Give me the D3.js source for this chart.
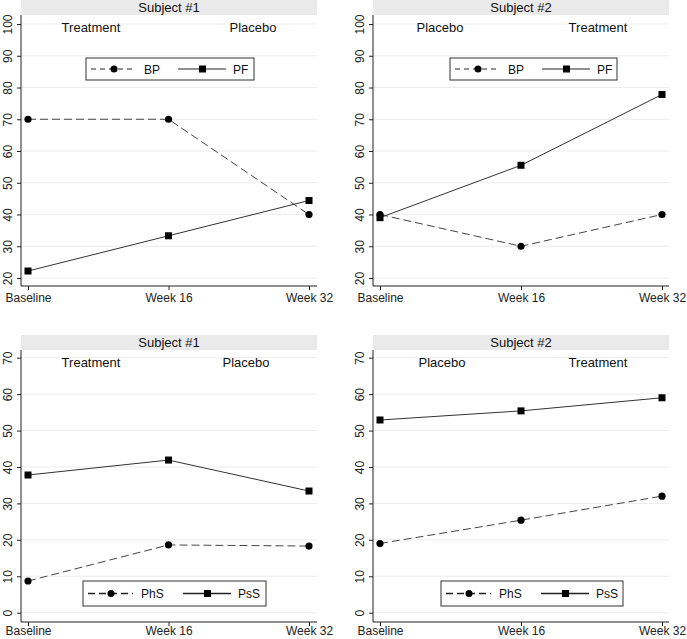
<!DOCTYPE html>
<html><head><meta charset="utf-8">
<script src="https://cdn.jsdelivr.net/npm/d3@7"></script>
<style>body{margin:0;background:#fff}svg{display:block;font-family:"Liberation Sans",Arial,sans-serif}</style>
</head><body>
<script>
// ---- data ----
const timepoints = ["Baseline", "Week 16", "Week 32"];
const s1BP = [70, 70, 40];
const s1PF = [22.2, 33.3, 44.4];
const s2BP = [40, 30, 40];
const s2PF = [39, 55.5, 77.8];
const s1PhS = [8.7, 18.6, 18.3];
const s1PsS = [37.8, 41.9, 33.4];
const s2PhS = [19, 25.4, 32];
const s2PsS = [52.9, 55.4, 59];
const topTicks = [20, 30, 40, 50, 60, 70, 80, 90, 100];
const bottomTicks = [0, 10, 20, 30, 40, 50, 60, 70];
const titles = ["Subject #1", "Subject #2"];
const phases1 = ["Treatment", "Placebo"];
const phases2 = ["Placebo", "Treatment"];

const W = 687, H = 639;
const svg = d3.select("body").append("svg").attr("width", W).attr("height", H);

const panels = [
  {title: titles[0], phases: phases1, dashed: s1BP, solid: s1PF, names: ["BP","PF"], ticks: topTicks,
   L: 21, R: 317, T: 15, B: 286, px: [28, 309], py: [278, 24], band: [0, 15], phaseY: 32, phaseX: [91, 253],
   leg: [86, 58, 168, 22], xLabY: 7},
  {title: titles[1], phases: phases2, dashed: s2BP, solid: s2PF, names: ["BP","PF"], ticks: topTicks,
   L: 373, R: 669, T: 15, B: 286, px: [380, 662], py: [278, 24], band: [0, 15], phaseY: 32, phaseX: [440, 598],
   leg: [450, 58, 167, 22], xLabY: 7},
  {title: titles[0], phases: phases1, dashed: s1PhS, solid: s1PsS, names: ["PhS","PsS"], ticks: bottomTicks,
   L: 21, R: 317, T: 350, B: 622, px: [28, 309], py: [612.7, 357.7], band: [335, 350], phaseY: 367, phaseX: [91, 246],
   leg: [83, 581, 183, 25], xLabY: 4},
  {title: titles[1], phases: phases2, dashed: s2PhS, solid: s2PsS, names: ["PhS","PsS"], ticks: bottomTicks,
   L: 373, R: 669, T: 350, B: 622, px: [380, 662], py: [612.7, 357.7], band: [335, 350], phaseY: 367, phaseX: [442, 598],
   leg: [441, 581, 182, 25], xLabY: 4}
];

panels.forEach((p, i) => {
  const g = svg.append("g");
  const x = d3.scalePoint().domain(timepoints).range(p.px);
  const y = d3.scaleLinear().domain([p.ticks[0], p.ticks[p.ticks.length - 1]]).range(p.py);

  // header band
  g.append("rect").attr("x", p.L).attr("y", p.band[0]).attr("width", p.R - p.L).attr("height", p.band[1] - p.band[0]).attr("fill", "#eaeaea");
  g.append("text").attr("x", (p.L + p.R) / 2).attr("y", p.band[1] - 3).attr("text-anchor", "middle")
    .attr("font-size", 13).attr("fill", "#111").text(p.title);

  // gridlines
  g.selectAll(".grid").data(p.ticks).join("line")
    .attr("x1", p.L).attr("x2", p.R).attr("y1", d => y(d)).attr("y2", d => y(d))
    .attr("stroke", "#ececec").attr("stroke-width", 1);

  // y axis
  const ya = g.append("g").attr("transform", `translate(${p.L},0)`)
    .call(d3.axisLeft(y).tickValues(p.ticks).tickSize(4).tickSizeOuter(0));
  ya.select(".domain").remove();
  ya.append("line").attr("x1", 0).attr("x2", 0).attr("y1", p.T).attr("y2", p.B).attr("stroke", "#222");
  ya.selectAll(".tick line").attr("stroke", "#222");
  ya.selectAll(".tick text").attr("font-size", 12).attr("fill", "#222")
    .attr("transform", "rotate(-90)").attr("x", 0).attr("y", -9).attr("dy", 0).attr("text-anchor", "middle")
    .attr("font-family", "Liberation Sans, Arial, sans-serif");

  // x axis
  const xa = g.append("g").attr("transform", `translate(0,${p.B})`)
    .call(d3.axisBottom(x).tickSize(4).tickSizeOuter(0));
  xa.select(".domain").remove();
  xa.append("line").attr("x1", p.L).attr("x2", p.R).attr("y1", 0).attr("y2", 0).attr("stroke", "#222");
  xa.selectAll(".tick line").attr("stroke", "#222");
  xa.selectAll(".tick text").attr("font-size", 12).attr("fill", "#222").attr("y", p.xLabY)
    .attr("font-family", "Liberation Sans, Arial, sans-serif");

  // phase labels
  g.selectAll(".phase").data(p.phases).join("text")
    .attr("x", (d, k) => p.phaseX[k]).attr("y", p.phaseY).attr("text-anchor", "middle")
    .attr("font-size", 13).attr("fill", "#111").text(d => d);

  const line = d3.line().x((d, k) => x(timepoints[k])).y(d => y(d));
  // dashed series
  g.append("path").attr("d", line(p.dashed)).attr("fill", "none").attr("stroke", "#444")
    .attr("stroke-width", 1).attr("stroke-dasharray", "8,4");
  g.selectAll(".c").data(p.dashed).join("circle")
    .attr("cx", (d, k) => x(timepoints[k])).attr("cy", d => y(d)).attr("r", 3.6).attr("fill", "#000");
  // solid series
  g.append("path").attr("d", line(p.solid)).attr("fill", "none").attr("stroke", "#333").attr("stroke-width", 1);
  g.selectAll(".s").data(p.solid).join("rect")
    .attr("x", (d, k) => x(timepoints[k]) - 3.5).attr("y", d => y(d) - 3.5).attr("width", 7).attr("height", 7).attr("fill", "#000");

  // legend
  const [lx, ly, lw, lh] = p.leg;
  const lg = g.append("g").attr("transform", `translate(${lx},${ly})`);
  lg.append("rect").attr("width", lw).attr("height", lh).attr("fill", "#fff").attr("stroke", "#333").attr("stroke-width", 1);
  const cy = lh / 2;
  const bottom = i >= 2;
  lg.append("line").attr("x1", 5).attr("x2", 50).attr("y1", cy).attr("y2", cy).attr("stroke", "#222")
    .attr("stroke-width", bottom ? 1.6 : 1).attr("stroke-dasharray", bottom ? "7,4" : "5,4");
  lg.append("circle").attr("cx", 28).attr("cy", cy).attr("r", 3.5).attr("fill", "#000");
  lg.append("text").attr("x", 58).attr("y", cy + 4.5).attr("font-size", 12).attr("fill", "#111").text(p.names[0]);
  const sx = bottom ? 100 : 92;
  lg.append("line").attr("x1", sx).attr("x2", sx + 48).attr("y1", cy).attr("y2", cy).attr("stroke", "#222")
    .attr("stroke-width", bottom ? 1.6 : 1);
  lg.append("rect").attr("x", sx + 21).attr("y", cy - 3.5).attr("width", 7).attr("height", 7).attr("fill", "#000");
  lg.append("text").attr("x", sx + 55).attr("y", cy + 4.5).attr("font-size", 12).attr("fill", "#111").text(p.names[1]);
});
</script>
</body></html>
